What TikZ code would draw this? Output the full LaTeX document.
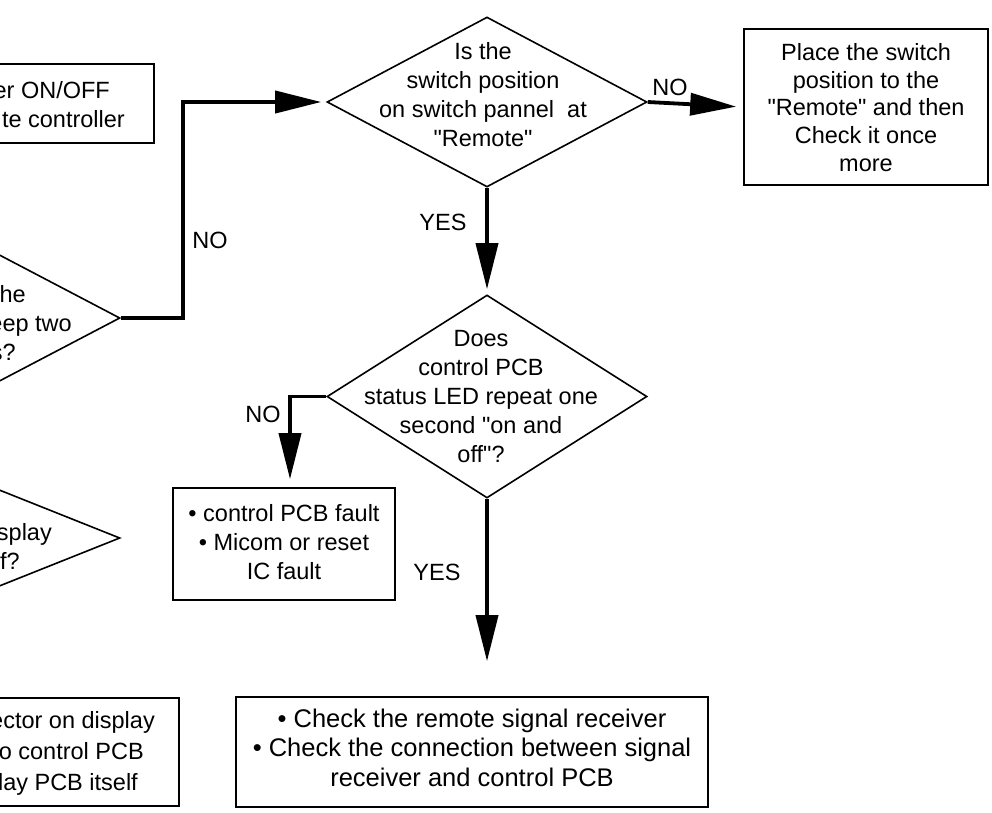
\documentclass[tikz,border=0pt]{standalone}
\usepackage{fontspec}
\setmainfont{Liberation Sans}[Ligatures=TeXOff]
\usetikzlibrary{shapes.geometric,arrows.meta}
\begin{document}
\begin{tikzpicture}[x=1pt,y=-1pt,
  shapeline/.style={draw=black, line width=1.6pt},
  boxshape/.style={shapeline, rectangle, inner sep=0pt},
  diashape/.style={shapeline, diamond, inner sep=0pt},
  conn/.style={line width=3.8pt, -{Triangle[length=46pt,width=22pt]}},
  txt/.style={inner sep=0pt, anchor=north, align=center, font=\fontsize{23.5}{29}\selectfont, execute at begin node=\strut},
  frag/.style={inner sep=0pt, anchor=base east, font=\fontsize{23.5}{29}\selectfont},
  lbl/.style={inner sep=0pt, font=\fontsize{23.5}{29}\selectfont}
]
\useasboundingbox (0,0) rectangle (992,812);
\clip (0,0) rectangle (992,812);

% shapes
\node[boxshape, minimum width=400pt, minimum height=79pt, anchor=east] (b0) at (155,103.5) {};
\node[diashape, minimum width=320pt, minimum height=168pt] (l2) at (-40,318) {};
\node[diashape, minimum width=320pt, minimum height=128pt] (l3) at (-40,538) {};
\node[boxshape, minimum width=400pt, minimum height=108pt, anchor=east] (b4) at (180,752) {};

\node[diashape, minimum width=320pt, minimum height=170pt] (d1) at (487,102) {};
\node[boxshape, minimum width=244pt, minimum height=156pt] (rb) at (866,107) {};
\node[diashape, minimum width=320pt, minimum height=203pt] (d2) at (487,396.5) {};
\node[boxshape, minimum width=222pt, minimum height=112pt] (fb) at (284,544) {};
\node[boxshape, minimum width=472pt, minimum height=110pt] (bb) at (472,752) {};

% clipped texts
\node[frag] (b0a) at (110,98) {er ON/OFF};
\node[frag] (b0b) at (125,127) {te controller};
\node[frag] (l2a) at (26,302) {the};
\node[frag] (l2b) at (72,331) {eep two};
\node[frag] (l2c) at (16,360) {s?};
\node[frag] (l3a) at (52,540) {splay};
\node[frag] (l3b) at (20,569) {f?};
\node[frag] (b4a) at (155,728) {ector on display};
\node[frag] (b4b) at (144,759) {o control PCB};
\node[frag] (b4c) at (138,790) {lay PCB itself};

% main texts
\node[txt] (t1) at (483,42.7) {Is the\\switch position\\on switch pannel~ at\\"Remote"};
\node[txt, font=\fontsize{23.5}{27.6}\selectfont] (trb) at (866,43.4) {Place the switch\\position to the\\"Remote" and then\\Check it once\\more};
\node[txt] (t2) at (481,329.7) {Does\\control PCB\\status LED repeat one\\second "on and\\off"?};
\node[txt] (tfb) at (284,504.7) {• control PCB fault\\• Micom or reset\\IC fault};
\node[txt, font=\fontsize{25.5}{29.5}\selectfont] (tbb) at (472,708.4) {• Check the remote signal receiver\\• Check the connection between signal\\receiver and control PCB};

% connectors
\coordinate (k1) at (183,200);
\coordinate (k2) at (290,0);
\draw[conn, shorten >=5pt] (l2.east) -| (k1) |- (d1.west);
\draw[conn, shorten >=7pt] (d1.east) -- (rb.west);
\draw[conn, shorten >=5pt] (d1.south) -- (d2.north);
\draw[conn, shorten >=8pt] (d2.west) -| (k2 |- fb.north);
\draw[conn, shorten >=35pt] (d2.south) -- (d2.south |- bb.north);

% labels
\node[lbl] (n1) at (210,240) {NO};
\node[lbl] (n2) at (670,87) {NO};
\node[lbl] (n3) at (263,414) {NO};
\node[lbl] (y1) at (443,222) {YES};
\node[lbl] (y2) at (437,572) {YES};
\end{tikzpicture}
\end{document}
